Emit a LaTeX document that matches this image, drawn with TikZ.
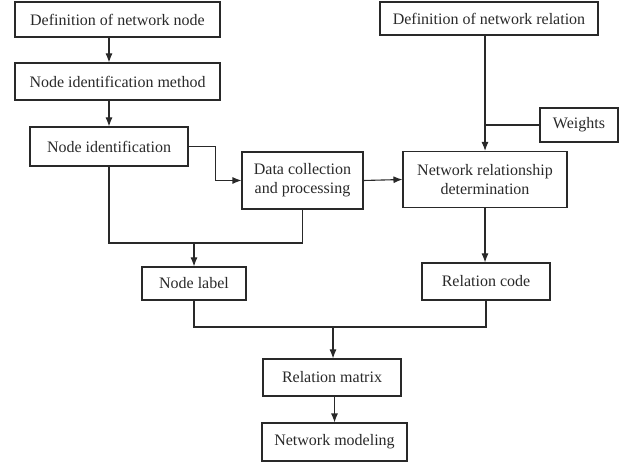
\documentclass[tikz,border=0pt]{standalone}
\usepackage{fontspec}
\setmainfont{Liberation Serif}
\usepackage{tikz}
\usetikzlibrary{arrows.meta}

\definecolor{ink}{rgb}{0.16,0.16,0.16}

\begin{document}
\begin{tikzpicture}[x=1pt,y=-1pt,
  box/.style={draw=ink, line width=1.1pt, text=ink, align=center,
    inner sep=0pt, font=\fontsize{16}{19}\selectfont},
  arr/.style={draw=ink, line width=1.1pt, -{Latex[length=9pt,width=7pt]}},
  wire/.style={draw=ink, line width=1.1pt}]
  \useasboundingbox (0,0) rectangle (632,462);

  % left column
  \node[box, minimum width=205, minimum height=35] (defnode) at (117.5,19.5) {Definition of network node};
  \node[box, minimum width=205, minimum height=37] (idmethod) at (117.5,81.5) {Node identification method};
  \node[box, minimum width=158, minimum height=39] (nodeid) at (109,146.5) {Node identification};
  \node[box, minimum width=121, minimum height=57] (datacol) at (302.5,180.5) {Data collection\\and processing};
  \node[box, minimum width=104, minimum height=33] (nodelabel) at (194,283.5) {Node label};

  % right column
  \node[box, minimum width=218, minimum height=33] (defrel) at (489,18.5) {Definition of network relation};
  \node[box, minimum width=78, minimum height=34] (weights) at (579,125) {Weights};
  \node[box, minimum width=164, minimum height=56] (netrel) at (485,179.5) {Network relationship\\determination};
  \node[box, minimum width=128, minimum height=37] (relcode) at (486,281.5) {Relation code};

  % bottom
  \node[box, minimum width=138, minimum height=37] (relmatrix) at (332,377.5) {Relation matrix};
  \node[box, minimum width=145, minimum height=38] (netmodel) at (334.5,442) {Network modeling};

  % junction points
  \coordinate (join1) at (194,243);
  \coordinate (join2) at (333,327);

  % node side
  \draw[arr] (defnode.south -| nodeid.north) -- (idmethod.north -| nodeid.north);
  \draw[arr] (idmethod.south -| nodeid.north) -- (nodeid.north);
  \draw[arr] (nodeid.east) -- ++(27,0) |- (datacol.west);
  \draw[arr] (datacol.east) -- (netrel.west);
  \draw[wire] (nodeid.south) |- (join1) -| (datacol.south);
  \draw[arr] (join1) -- (nodelabel.north);

  % relation side
  \draw[arr] (defrel.south -| netrel.north) -- (netrel.north);
  \draw[wire] (weights.west) -- (weights.west -| netrel.north);
  \draw[arr] (netrel.south) -- (relcode.north -| netrel.south);

  % merge
  \draw[wire] (nodelabel.south) |- (join2) -| (relcode.south);
  \draw[arr] (join2) -- (relmatrix.north -| join2);
  \draw[arr] (relmatrix.south -| netmodel.north) -- (netmodel.north);
\end{tikzpicture}
\end{document}
